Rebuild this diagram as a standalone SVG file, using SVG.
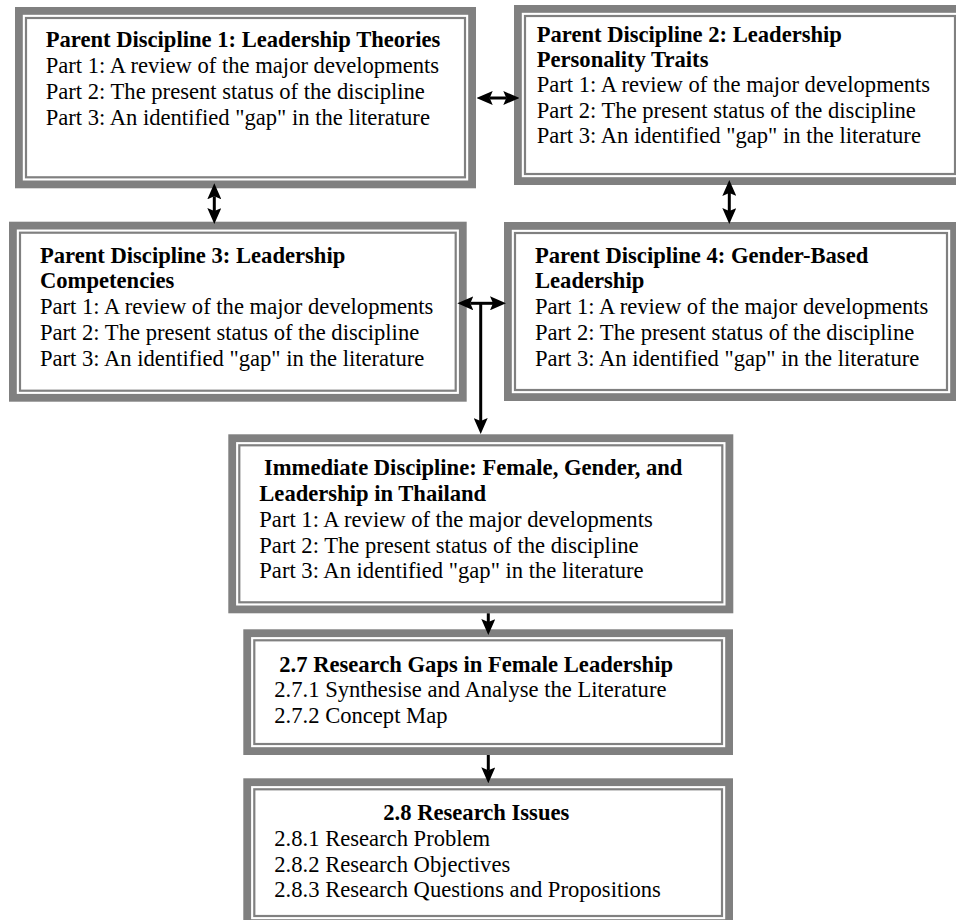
<svg xmlns="http://www.w3.org/2000/svg" width="956" height="920" viewBox="0 0 956 920">
<style>
.thick{fill:#ffffff;stroke:#808080;stroke-width:7.8}
.thin{fill:none;stroke:#808080;stroke-width:2.2}
text{font-family:"Liberation Serif","Times New Roman",serif;font-size:22.6px;fill:#000}
.b{font-weight:bold}
.conn line{stroke:#000;stroke-width:3}
</style>
<defs>
<marker id="ah" viewBox="0 0 16 14" refX="3" refY="7" markerWidth="16" markerHeight="14" markerUnits="userSpaceOnUse" orient="auto-start-reverse">
<path d="M0,0 L16,7 L0,14 L3,7 z" fill="#000"/>
</marker>
</defs>
<rect width="956" height="920" fill="#fff"/>
<g id="pd1">
<rect class="thick" x="18.9" y="10.9" width="453.2" height="173.5"/>
<rect class="thin" x="26" y="18" width="439" height="159.3"/>
<text class="b" x="45.7" y="47">Parent Discipline 1: Leadership Theories</text>
<text x="45.7" y="73">Part 1: A review of the major developments</text>
<text x="45.7" y="99">Part 2: The present status of the discipline</text>
<text x="45.7" y="125">Part 3: An identified "gap" in the literature</text>
</g>
<g id="pd2">
<rect class="thick" x="517.9" y="8.9" width="444.2" height="172.2"/>
<rect class="thin" x="525" y="16" width="430" height="158"/>
<text class="b" x="536.7" y="41.7">Parent Discipline 2: Leadership</text>
<text class="b" x="536.7" y="67">Personality Traits</text>
<text x="536.7" y="92.3">Part 1: A review of the major developments</text>
<text x="536.7" y="117.6">Part 2: The present status of the discipline</text>
<text x="536.7" y="142.9">Part 3: An identified "gap" in the literature</text>
</g>
<g id="pd3">
<rect class="thick" x="12.9" y="225.6" width="449.9" height="172.2"/>
<rect class="thin" x="20" y="232.7" width="435.7" height="158"/>
<text class="b" x="40" y="262.5">Parent Discipline 3: Leadership</text>
<text class="b" x="40" y="288.3">Competencies</text>
<text x="40" y="314">Part 1: A review of the major developments</text>
<text x="40" y="340">Part 2: The present status of the discipline</text>
<text x="40" y="366">Part 3: An identified "gap" in the literature</text>
</g>
<g id="pd4">
<rect class="thick" x="507.9" y="225.9" width="446.2" height="171.2"/>
<rect class="thin" x="515" y="233" width="432" height="157"/>
<text class="b" x="535" y="262.5">Parent Discipline 4: Gender-Based</text>
<text class="b" x="535" y="288.3">Leadership</text>
<text x="535" y="314">Part 1: A review of the major developments</text>
<text x="535" y="340">Part 2: The present status of the discipline</text>
<text x="535" y="366">Part 3: An identified "gap" in the literature</text>
</g>
<g id="immediate">
<rect class="thick" x="232.2" y="438.2" width="497.2" height="171.2"/>
<rect class="thin" x="239.3" y="445.3" width="483" height="157"/>
<text class="b" x="264" y="475">Immediate Discipline: Female, Gender, and</text>
<text class="b" x="259.3" y="501">Leadership in Thailand</text>
<text x="259.3" y="526.7">Part 1: A review of the major developments</text>
<text x="259.3" y="552.5">Part 2: The present status of the discipline</text>
<text x="259.3" y="578.3">Part 3: An identified "gap" in the literature</text>
</g>
<g id="gaps">
<rect class="thick" x="247.2" y="633.2" width="481.9" height="117.9"/>
<rect class="thin" x="254.3" y="640.3" width="467.7" height="103.7"/>
<text class="b" x="279.3" y="671.7">2.7 Research Gaps in Female Leadership</text>
<text x="274.3" y="697.3">2.7.1 Synthesise and Analyse the Literature</text>
<text x="274.3" y="723.3">2.7.2 Concept Map</text>
</g>
<g id="issues">
<rect class="thick" x="247.2" y="782.2" width="481.9" height="140.9"/>
<rect class="thin" x="254.3" y="789.3" width="467.7" height="126.7"/>
<text class="b" x="383.3" y="820">2.8 Research Issues</text>
<text x="274.3" y="845.7">2.8.1 Research Problem</text>
<text x="274.3" y="871.5">2.8.2 Research Objectives</text>
<text x="274.3" y="897">2.8.3 Research Questions and Propositions</text>
</g>
<g id="connectors" class="conn">
<line x1="489.7" y1="98" x2="506.3" y2="98" marker-start="url(#ah)" marker-end="url(#ah)"/>
<line x1="214.3" y1="196.3" x2="214.3" y2="211" marker-start="url(#ah)" marker-end="url(#ah)"/>
<line x1="729.3" y1="193" x2="729.3" y2="211" marker-start="url(#ah)" marker-end="url(#ah)"/>
<line x1="470.3" y1="303.3" x2="493" y2="303.3" marker-start="url(#ah)" marker-end="url(#ah)"/>
<line x1="480.7" y1="303.3" x2="480.7" y2="421" marker-end="url(#ah)"/>
<line x1="488.3" y1="613.3" x2="488.3" y2="622" marker-end="url(#ah)"/>
<line x1="488.3" y1="755" x2="488.3" y2="770.3" marker-end="url(#ah)"/>
</g>
</svg>
